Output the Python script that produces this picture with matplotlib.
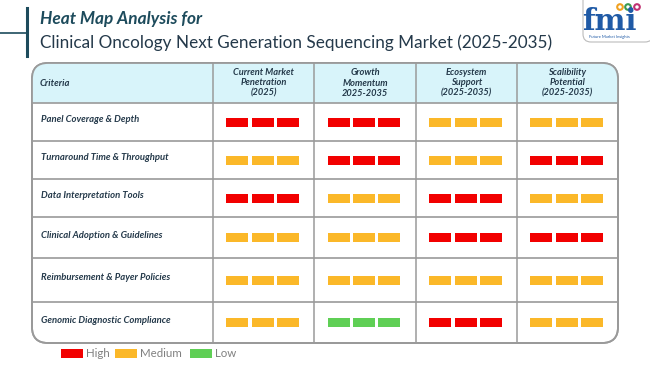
import matplotlib
matplotlib.use('Agg')
import matplotlib.pyplot as plt
from matplotlib.patches import FancyBboxPatch, Rectangle

# Heat map content
columns = ['Current Market\nPenetration\n(2025)', 'Growth\nMomentum\n2025-2035',
           'Ecosystem\nSupport\n(2025-2035)', 'Scalibility\nPotential\n(2025-2035)']
criteria = ['Panel Coverage & Depth', 'Turnaround Time & Throughput',
            'Data Interpretation Tools', 'Clinical Adoption & Guidelines',
            'Reimbursement & Payer Policies', 'Genomic Diagnostic Compliance']
levels = [
    ['High', 'High', 'Medium', 'Medium'],
    ['Medium', 'High', 'Medium', 'High'],
    ['High', 'Medium', 'High', 'Medium'],
    ['Medium', 'Medium', 'High', 'High'],
    ['Medium', 'Medium', 'Medium', 'Medium'],
    ['Medium', 'Low', 'High', 'Medium'],
]
legend_labels = ['High', 'Medium', 'Low']
level_colors = {'High': '#f20000', 'Medium': '#fbb829', 'Low': '#5fcf55'}

plt.rcParams['font.family'] = ['Lato', 'DejaVu Sans']

fig = plt.figure(figsize=(6.5, 3.65), dpi=100)
ax = fig.add_axes([0, 0, 1, 1])
ax.set_xlim(0, 650)
ax.set_ylim(365, 0)
ax.axis('off')

dark = '#1d4b5c'
text_dark = '#24394a'

# title block
ax.plot([27, 27], [8, 56], color=dark, lw=2.2)
ax.plot([0, 27], [33, 33], color=dark, lw=1.2)
ax.text(40, 19, 'Heat Map Analysis for', fontsize=12.4, fontweight='bold',
        style='italic', color=dark, va='center', ha='left')
ax.text(40, 43, 'Clinical Oncology Next Generation Sequencing Market (2025-2035)',
        fontsize=12.3, color=text_dark, va='center', ha='left')

# logo
ax.add_patch(FancyBboxPatch((583, -8), 70, 50, boxstyle='round,pad=0,rounding_size=8',
                            fc='white', ec='#bbbbbb', lw=0.8))
ax.text(609, 21, 'fmi', fontsize=21, fontweight='bold', color='#1f5aa6',
        ha='center', va='center', family='DejaVu Serif')
for dx, c in zip([620, 628, 637], ['#f0a020', '#3a9a50', '#c03070']):
    ax.add_patch(plt.Circle((dx, 7), 2.8, fc='white', ec=c, lw=1.5))
ax.text(609, 37, 'Future Market Insights', fontsize=3, color='#1f5aa6',
        ha='center', va='center')

# table geometry
tx0, tx1 = 32, 618
ty0, ty1 = 63, 343
col_edges = [tx0, 213, 314, 416, 517, tx1]
row_edges = [ty0, 103, 141, 179, 217, 258, 302, ty1]
border = '#9a9a9a'

frame = FancyBboxPatch((tx0, ty0), tx1 - tx0, ty1 - ty0,
                       boxstyle='round,pad=0,rounding_size=16',
                       fc='white', ec=border, lw=1.3, zorder=1)
ax.add_patch(frame)
header = Rectangle((tx0, ty0), tx1 - tx0, row_edges[1] - ty0,
                   fc='#d8f4fa', ec='none', zorder=1.5)
ax.add_patch(header)
header.set_clip_path(frame)

for y in row_edges[1:-1]:
    ax.plot([tx0, tx1], [y, y], color=border, lw=1.2, zorder=2)
for x in col_edges[1:-1]:
    ax.plot([x, x], [ty0, ty1], color=border, lw=1.1, zorder=2)
ax.add_patch(FancyBboxPatch((tx0, ty0), tx1 - tx0, ty1 - ty0,
                            boxstyle='round,pad=0,rounding_size=16',
                            fc='none', ec=border, lw=1.3, zorder=3))

# header text
ax.text(40, (ty0 + row_edges[1]) / 2, 'Criteria', fontsize=6.8, fontweight='bold',
        style='italic', color=text_dark, va='center', ha='left', zorder=4)
for j, col in enumerate(columns):
    cx = (col_edges[j + 1] + col_edges[j + 2]) / 2
    ax.text(cx, (ty0 + row_edges[1]) / 2, col, fontsize=6.7, fontweight='bold',
            style='italic', color=text_dark, va='center', ha='center',
            linespacing=1.2, zorder=4)

# rows
bar_w, bar_h, gap = 22, 9, 3.2
for i, name in enumerate(criteria):
    r0, r1 = row_edges[i + 1], row_edges[i + 2]
    cy = (r0 + r1) / 2
    ax.text(41, cy - 2, name, fontsize=6.8, fontweight='bold', style='italic',
            color=text_dark, va='center', ha='left', zorder=4)
    for j, lvl in enumerate(levels[i]):
        cx = (col_edges[j + 1] + col_edges[j + 2]) / 2 - 1
        start = cx - (3 * bar_w + 2 * gap) / 2
        for k in range(3):
            ax.add_patch(Rectangle((start + k * (bar_w + gap), cy - bar_h / 2),
                                   bar_w, bar_h, fc=level_colors[lvl], ec='none',
                                   zorder=4))

# legend
lx = 61
for lab in legend_labels:
    ax.add_patch(Rectangle((lx, 349), 22, 9, fc=level_colors[lab], ec='none'))
    ax.text(lx + 25, 353.5, lab, fontsize=8.3, color='#808080',
            va='center', ha='left')
    lx += {'High': 54, 'Medium': 75, 'Low': 40}[lab]

fig.savefig('out.png', dpi=100)
plt.close(fig)
